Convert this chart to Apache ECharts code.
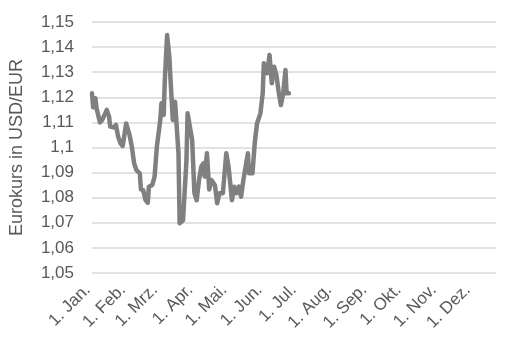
<!DOCTYPE html>
<html>
<head>
<meta charset="utf-8">
<script src="https://cdn.jsdelivr.net/npm/echarts@6/dist/echarts.min.js"></script>
<style>
  html, body { margin: 0; padding: 0; background: #fff; }
  #chart { width: 509px; height: 355px; }
</style>
</head>
<body>
<div id="chart"></div>
<script>
// Monatsnamen fuer die Achsenbeschriftung
var monthNames = ['Jan.', 'Feb.', 'Mrz.', 'Apr.', 'Mai.', 'Jun.', 'Jul.', 'Aug.', 'Sep.', 'Okt.', 'Nov.', 'Dez.'];

// Kursdaten
var dates = [
  '2015-01-01', '2015-01-02', '2015-01-04', '2015-01-05', '2015-01-08', '2015-01-10', '2015-01-14', '2015-01-16',
  '2015-01-17', '2015-01-20', '2015-01-22', '2015-01-24', '2015-01-26', '2015-01-28', '2015-01-31', '2015-02-03',
  '2015-02-05', '2015-02-07', '2015-02-09', '2015-02-12', '2015-02-13', '2015-02-15', '2015-02-17', '2015-02-19',
  '2015-02-20', '2015-02-23', '2015-02-25', '2015-02-27', '2015-03-02', '2015-03-03', '2015-03-05', '2015-03-06',
  '2015-03-08', '2015-03-10', '2015-03-11', '2015-03-13', '2015-03-15', '2015-03-16', '2015-03-18', '2015-03-19',
  '2015-03-22', '2015-03-25', '2015-03-26', '2015-03-28', '2015-03-30', '2015-04-01', '2015-04-03', '2015-04-05',
  '2015-04-07', '2015-04-09', '2015-04-10', '2015-04-12', '2015-04-14', '2015-04-16', '2015-04-19', '2015-04-21',
  '2015-04-23', '2015-04-26', '2015-04-29', '2015-05-01', '2015-05-04', '2015-05-06', '2015-05-08', '2015-05-10',
  '2015-05-12', '2015-05-14', '2015-05-15', '2015-05-18', '2015-05-19', '2015-05-22', '2015-05-24', '2015-05-26',
  '2015-05-29', '2015-05-31', '2015-06-01', '2015-06-04', '2015-06-06', '2015-06-08', '2015-06-10', '2015-06-12',
  '2015-06-14', '2015-06-16', '2015-06-18', '2015-06-20', '2015-06-21', '2015-06-23'
];
var rates = [
  1.1216, 1.1160, 1.1196, 1.1156, 1.1100, 1.1110, 1.1150, 1.1123,
  1.1083, 1.1080, 1.1090, 1.1043, 1.1017, 1.1006, 1.1096, 1.1050,
  1.1003, 1.0937, 1.0910, 1.0897, 1.0833, 1.0830, 1.0791, 1.0780,
  1.0844, 1.0851, 1.0884, 1.1003, 1.1110, 1.1176, 1.1130, 1.1270,
  1.1448, 1.1360, 1.1270, 1.1110, 1.1182, 1.1182, 1.0977, 1.0698,
  1.0710, 1.0950, 1.1136, 1.1083, 1.1030, 1.0818, 1.0790, 1.0870,
  1.0923, 1.0937, 1.0884, 1.0977, 1.0833, 1.0870, 1.0850, 1.0778,
  1.0818, 1.0818, 1.0977, 1.0923, 1.0790, 1.0844, 1.0818, 1.0844,
  1.0804, 1.0870, 1.0897, 1.0977, 1.0897, 1.0897, 1.1017, 1.1096,
  1.1136, 1.1216, 1.1336, 1.1296, 1.1369, 1.1256, 1.1322, 1.1290,
  1.1222, 1.1169, 1.1216, 1.1309, 1.1216, 1.1216
];

var yMin = 1.05, yMax = 1.15, yStep = 0.01;
var axisStart = '2015-01-01', axisEnd = '2015-12-22';
var DAY = 24 * 3600 * 1000;

var seriesData = [];
for (var i = 0; i < dates.length; i++) {
  seriesData.push([dates[i], rates[i]]);
}

var chart = echarts.init(document.getElementById('chart'));
var option = {
  animation: false,
  textStyle: { fontFamily: 'Liberation Sans, Arial, sans-serif' },
  grid: { left: 92, right: 13, top: 22, bottom: 82, containLabel: false },
  xAxis: {
    type: 'time',
    min: axisStart,
    max: axisEnd,
    minInterval: 28 * DAY,
    maxInterval: 31 * DAY,
    splitNumber: 12,
    axisLine: { show: false },
    axisTick: { show: false },
    splitLine: { show: false },
    axisLabel: {
      rotate: 45,
      margin: 10,
      fontSize: 17,
      color: '#595959',
      padding: [0, 6, 0, 0],
      showMaxLabel: false,
      formatter: function (val) {
        var d = new Date(val);
        return '1. ' + monthNames[d.getMonth()];
      }
    }
  },
  yAxis: {
    type: 'value',
    min: yMin,
    max: yMax,
    interval: yStep,
    name: 'Eurokurs in USD/EUR',
    nameLocation: 'middle',
    nameGap: 66,
    nameTextStyle: { fontSize: 18, color: '#595959' },
    axisLine: { show: false },
    axisTick: { show: false },
    axisLabel: {
      margin: 18,
      fontSize: 17,
      color: '#595959',
      formatter: function (v) {
        return String(Number(v.toFixed(2))).replace('.', ',');
      }
    },
    splitLine: { lineStyle: { color: '#d9d9d9', width: 1.5 } }
  },
  series: [{
    type: 'line',
    data: seriesData,
    showSymbol: false,
    symbol: 'none',
    lineStyle: { color: '#808080', width: 4.5, join: 'round', cap: 'round' }
  }]
};
chart.setOption(option);
</script>
</body>
</html>
